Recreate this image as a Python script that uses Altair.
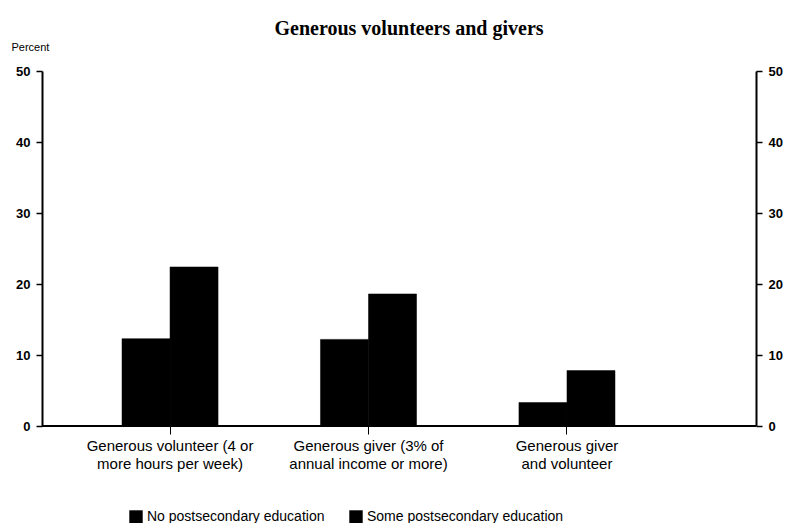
import altair as alt
import pandas as pd

categories = [
    "Generous volunteer (4 or|more hours per week)",
    "Generous giver (3% of|annual income or more)",
    "Generous giver|and volunteer",
]
series = ["No postsecondary education", "Some postsecondary education"]
no_post = [12.3, 12.2, 3.3]
some_post = [22.4, 18.6, 7.8]
y_ticks = [0, 10, 20, 30, 40, 50]

rows = []
for c, a, b in zip(categories, no_post, some_post):
    rows.append({"category": c, "series": series[0], "value": a})
    rows.append({"category": c, "series": series[1], "value": b})
df = pd.DataFrame(rows)

FONT = "Liberation Sans"
W, H = 714, 355

yscale = alt.Scale(domain=[0, 50], nice=False)

bars = alt.Chart(df).mark_bar(color="black", stroke="black", strokeWidth=0.5).encode(
    x=alt.X(
        "category:N",
        sort=categories,
        scale=alt.Scale(range=[80, 573], paddingInner=0.516, paddingOuter=0),
        axis=alt.Axis(
            title=None,
            labelAngle=0,
            labelExpr="split(datum.label, '|')",
            labelFont=FONT,
            labelFontSize=15,
            labelColor="black",
            labelLineHeight=18,
            labelPadding=4,
            domain=False,
            grid=False,
            tickColor="black",
            tickSize=8,
            tickWidth=1,
        ),
    ),
    xOffset=alt.XOffset("series:N", sort=series, scale=alt.Scale(paddingInner=0, paddingOuter=0)),
    y=alt.Y(
        "value:Q",
        scale=yscale,
        axis=alt.Axis(
            title="Percent",
            titleAngle=0,
            titleX=-31,
            titleY=-19,
            titleAlign="left",
            titleFont=FONT,
            titleFontSize=11,
            titleFontWeight="normal",
            titleColor="black",
            values=y_ticks,
            grid=False,
            labelFont=FONT,
            labelFontSize=13,
            labelFontWeight="bold",
            labelColor="black",
            labelPadding=6,
            domainColor="black",
            domainWidth=2,
            tickColor="black",
            tickSize=6,
            tickWidth=1.5,
        ),
    ),
    color=alt.Color(
        "series:N",
        sort=series,
        scale=alt.Scale(domain=series, range=["black", "black"]),
        legend=alt.Legend(
            title=None,
            orient="none",
            legendX=87,
            legendY=439,
            direction="horizontal",
            symbolType="square",
            symbolSize=180,
            symbolFillColor="black",
            symbolStrokeWidth=0,
            labelFont=FONT,
            labelFontSize=14,
            labelColor="black",
            labelLimit=300,
            columnPadding=24,
            labelOffset=4,
        ),
    ),
)

right = alt.Chart(df).mark_rule(opacity=0, strokeWidth=0).encode(
    y=alt.Y(
        "value:Q",
        scale=yscale,
        axis=alt.Axis(
            orient="right",
            title=None,
            values=y_ticks,
            grid=False,
            labelFont=FONT,
            labelFontSize=13,
            labelFontWeight="bold",
            labelColor="black",
            labelPadding=6,
            domainColor="black",
            domainWidth=2,
            tickColor="black",
            tickSize=6,
            tickWidth=1.5,
        ),
    ),
)

baseline = alt.Chart(pd.DataFrame({"v": [0]})).mark_rule(color="black", strokeWidth=2).encode(
    y=alt.Y("v:Q", scale=yscale, axis=None)
)

chart = (
    alt.layer(bars, right, baseline, view=alt.ViewBackground(stroke="transparent", strokeWidth=0))
    .resolve_axis(y="independent")
    .properties(
        width=W,
        height=H,
        autosize=alt.AutoSizeParams(type="none"),
        padding={"left": 34, "top": 63, "right": 36, "bottom": 97},
        title=alt.TitleParams(
            "Generous volunteers and givers",
            font="Liberation Serif",
            fontSize=20,
            fontWeight="bold",
            color="black",
            frame="group",
            anchor="middle",
            dx=10,
            offset=2,
        ),
    )
    .configure_view(strokeWidth=0, stroke="transparent")
    .configure_axis(grid=False)
    .configure(background="white")
)

chart.save("out.html", embed_options={"renderer": "svg", "actions": False})
